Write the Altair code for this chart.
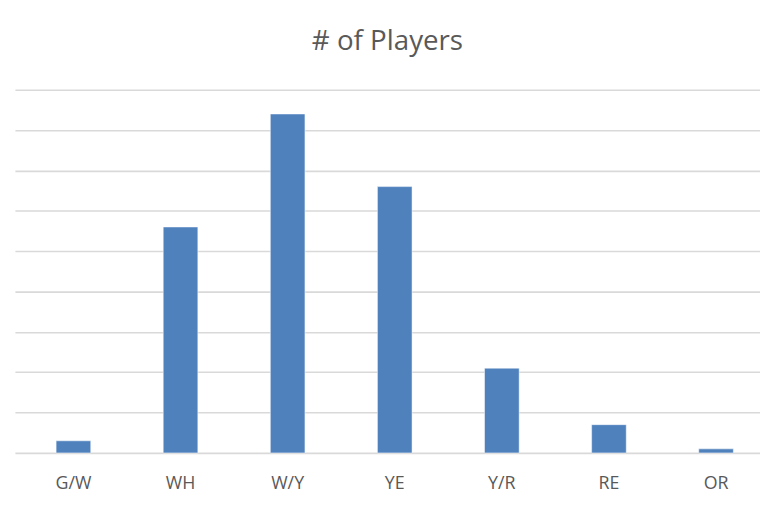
import altair as alt
import pandas as pd

categories = ["G/W", "WH", "W/Y", "YE", "Y/R", "RE", "OR"]
players = [3, 56, 84, 66, 21, 7, 1]

df = pd.DataFrame({"cat": categories, "players": players, "idx": list(range(len(categories)))})

PLOT_W = 753
STEP = 109.7
x_scale = alt.Scale(domain=[-0.5, -0.5 + PLOT_W / STEP], nice=False, zero=False)

base = alt.Chart(df)

bars = base.mark_bar(color="#4F81BD", stroke="#FFFFFF", strokeWidth=0.5, size=35).encode(
    x=alt.X("idx:Q", scale=x_scale, axis=None),
    y=alt.Y("players:Q", scale=alt.Scale(domain=[0, 90], nice=False),
            axis=alt.Axis(title=None, labels=False, ticks=False, domain=False,
                          values=list(range(0, 91, 10)), gridColor="#D9D9D9", gridWidth=1.6)),
)

labels = base.mark_text(fontSize=18, font="Open Sans", color="#595959", baseline="alphabetic").encode(
    x=alt.X("idx:Q", scale=x_scale, axis=None),
    y=alt.value(403),
    text="cat:N",
)

chart = alt.layer(bars, labels).properties(
    width=PLOT_W, height=367,
    background="white",
    autosize=alt.AutoSizeParams(type="none"),
    padding={"left": 7, "top": 80, "right": 0, "bottom": 49},
    title=alt.TitleParams("# of Players", fontSize=28, font="Open Sans", color="#595959",
                          fontWeight="normal", offset=34, anchor="middle"),
).configure_view(stroke="transparent")

chart.save("out.html", embed_options={"renderer": "svg", "actions": False})
